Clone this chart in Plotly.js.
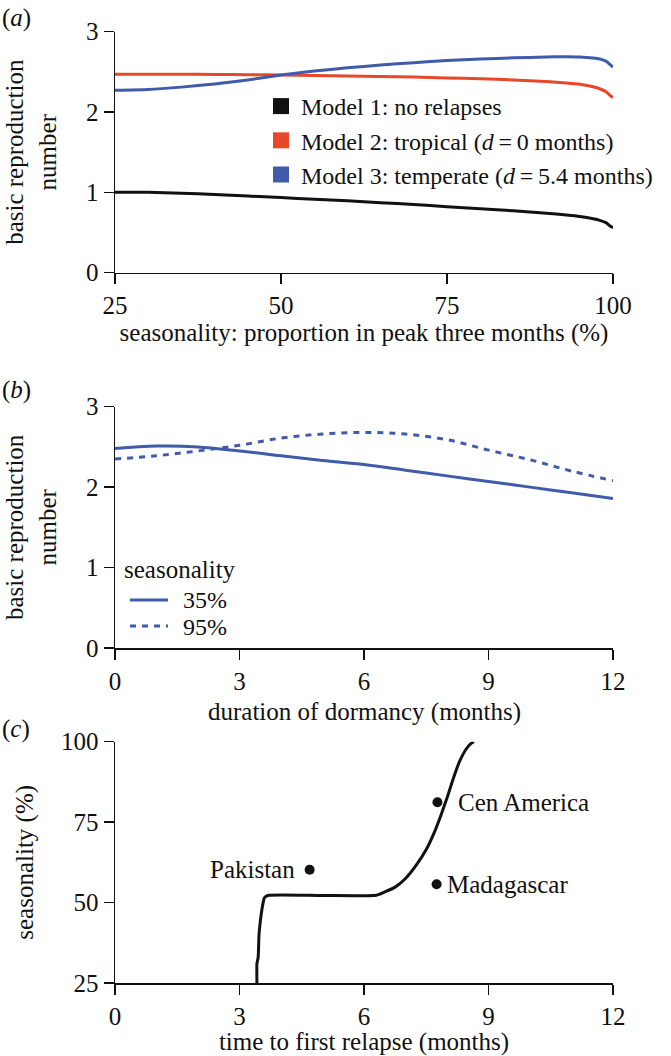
<!DOCTYPE html>
<html>
<head>
<meta charset="utf-8">
<script src="https://cdn.plot.ly/plotly-3.0.1.min.js"></script>
<style>html,body{margin:0;padding:0;background:#fff;}#chart{width:671px;height:1056px;}</style>
</head>
<body>
<div id="chart"></div>
<script>
// Panel (a): seasonality (%) vs basic reproduction number
const seasA = [25, 30, 35, 40, 45, 50, 55, 60, 65, 70, 75, 80, 85, 90, 93, 95, 97, 98, 99, 99.5, 100];
const model1 = [1.00, 1.00, 0.99, 0.975, 0.955, 0.935, 0.915, 0.895, 0.872, 0.848, 0.822, 0.797, 0.770, 0.740, 0.718, 0.700, 0.672, 0.652, 0.620, 0.585, 0.560];
const model2 = [2.47, 2.47, 2.47, 2.468, 2.465, 2.46, 2.455, 2.45, 2.443, 2.435, 2.425, 2.413, 2.40, 2.38, 2.362, 2.345, 2.315, 2.29, 2.25, 2.21, 2.18];
const model3 = [2.27, 2.28, 2.31, 2.35, 2.40, 2.46, 2.51, 2.55, 2.585, 2.615, 2.64, 2.66, 2.675, 2.685, 2.688, 2.685, 2.672, 2.66, 2.63, 2.595, 2.56];
const namesA = ["Model 1: no relapses", "Model 2: tropical (<i>d</i>\u2009=\u20090 months)", "Model 3: temperate (<i>d</i>\u2009=\u20095.4 months)"];

// Panel (b): duration of dormancy (months) vs basic reproduction number
const dormancy = [0, 1, 2, 3, 4, 5, 6, 7, 8, 9, 10, 11, 12];
const seas35 = [2.48, 2.51, 2.50, 2.45, 2.39, 2.33, 2.28, 2.21, 2.14, 2.07, 2.00, 1.93, 1.86];
const seas95 = [2.35, 2.39, 2.45, 2.52, 2.61, 2.66, 2.68, 2.66, 2.59, 2.46, 2.34, 2.20, 2.08];
const legendTitleB = "seasonality";
const namesB = ["35%", "95%"];

// Panel (c): time to first relapse (months) vs seasonality (%)
const relapseT = [3.42, 3.42, 3.45, 3.47, 3.50, 3.53, 3.57, 3.60, 3.68, 5.0, 6.3, 6.5, 6.75, 7.0, 7.25, 7.5, 7.7, 7.85, 8.0, 8.15, 8.3, 8.45, 8.58, 8.65];
const relapseS = [25, 31, 33, 40, 44, 47, 50, 51.5, 52.2, 52.2, 52.3, 53.3, 54.8, 57.5, 61.5, 66.5, 72, 77, 82.5, 88.5, 93.8, 97.5, 99.5, 100];
const places = ["Pakistan", "Cen America", "Madagascar"];
const placeT = [4.69, 7.77, 7.75];
const placeS = [60.2, 81.2, 55.7];

const RED = "#E8472A", BLUE = "#3F5BAA", BLACK = "#111111";
const FONT = "Liberation Serif";
const FS = 25;

const traces = [];
const colsA = [BLACK, RED, BLUE];
[model1, model2, model3].forEach((ys, i) => {
  traces.push({x: seasA, y: ys, type: "scatter", mode: "lines", line: {color: colsA[i], width: 3, shape: "spline", smoothing: 0.6},
    xaxis: "x", yaxis: "y", showlegend: false, hoverinfo: "skip", cliponaxis: false});
});
namesA.forEach((n, i) => {
  traces.push({x: [null], y: [null], type: "scatter", mode: "markers", name: n,
    marker: {symbol: "square", size: 18, color: colsA[i]}, xaxis: "x", yaxis: "y", legend: "legend"});
});
traces.push({x: dormancy, y: seas35, type: "scatter", mode: "lines", name: namesB[0], showlegend: false,
  line: {color: BLUE, width: 3, shape: "spline"}, xaxis: "x2", yaxis: "y2"});
traces.push({x: dormancy, y: seas95, type: "scatter", mode: "lines", name: namesB[1], showlegend: false,
  line: {color: BLUE, width: 3, shape: "spline", dash: "6px,6px"}, xaxis: "x2", yaxis: "y2"});
traces.push({x: relapseT, y: relapseS, type: "scatter", mode: "lines", line: {color: BLACK, width: 3, shape: "spline", smoothing: 0.5},
  xaxis: "x3", yaxis: "y3", showlegend: false, cliponaxis: false});
traces.push({x: placeT, y: placeS, type: "scatter", mode: "markers", marker: {color: BLACK, size: 10},
  xaxis: "x3", yaxis: "y3", showlegend: false, cliponaxis: false});

function ax(extra) {
  return Object.assign({
    showline: true, linecolor: BLACK, linewidth: 1.5, ticks: "outside", ticklen: 10, tickwidth: 1.5,
    tickcolor: BLACK, showgrid: false, zeroline: false, automargin: false, fixedrange: true,
    tickfont: {family: FONT, size: FS, color: BLACK}
  }, extra);
}
const P = (px) => 1 - px / 1056;
const xdom = [115/671, 613/671];
const tf = {family: FONT, size: FS, color: BLACK};
const lf = {family: FONT, size: 24, color: BLACK};
const layout = {
  width: 671, height: 1056,
  margin: {l: 0, r: 0, t: 0, b: 0, autoexpand: false},
  paper_bgcolor: "#fff", plot_bgcolor: "#fff",
  font: tf,
  xaxis: ax({domain: xdom, range: [25, 100], tickvals: [25, 50, 75, 100], anchor: "y",
    title: {text: "seasonality: proportion in peak three months (%)", font: tf, standoff: 2}}),
  yaxis: ax({domain: [P(272.7), P(31.7)], range: [0, 3], tickvals: [0, 1, 2, 3], anchor: "x",
    title: {text: "basic reproduction<br>number", font: tf, standoff: 22}}),
  xaxis2: ax({domain: xdom, range: [0, 12], tickvals: [0, 3, 6, 9, 12], anchor: "y2"}),
  yaxis2: ax({domain: [P(648), P(406.7)], range: [0, 3], tickvals: [0, 1, 2, 3], anchor: "x2",
    title: {text: "basic reproduction<br>number", font: tf, standoff: 22}}),
  xaxis3: ax({domain: xdom, range: [0, 12], tickvals: [0, 3, 6, 9, 12], anchor: "y3",
    title: {text: "time to first relapse (months)", font: tf, standoff: 3}}),
  yaxis3: ax({domain: [P(983), P(741.7)], range: [25, 100], tickvals: [25, 50, 75, 100], anchor: "x3",
    title: {text: "seasonality (%)", font: tf, standoff: 20}}),
  legend: {x: 261/671, xanchor: "left", y: P(84), yanchor: "top", bgcolor: "rgba(0,0,0,0)",
    font: lf, tracegroupgap: 0},
  shapes: [
    {type: "line", xref: "paper", yref: "paper", x0: 130/671, x1: 168/671, y0: P(600), y1: P(600), line: {color: BLUE, width: 3}},
    {type: "line", xref: "paper", yref: "paper", x0: 130/671, x1: 168/671, y0: P(626), y1: P(626), line: {color: BLUE, width: 3, dash: "6px,6px"}}
  ],
  annotations: [
    {text: "(<i>a</i>)", xref: "paper", yref: "paper", x: 0, y: P(2), xanchor: "left", yanchor: "top", showarrow: false, font: tf},
    {text: "(<i>b</i>)", xref: "paper", yref: "paper", x: 0, y: P(374), xanchor: "left", yanchor: "top", showarrow: false, font: tf},
    {text: "(<i>c</i>)", xref: "paper", yref: "paper", x: 0, y: P(713), xanchor: "left", yanchor: "top", showarrow: false, font: tf},
    {text: "duration of dormancy (months)", xref: "paper", yref: "paper", x: (xdom[0] + xdom[1]) / 2, y: P(697), xanchor: "center", yanchor: "top", showarrow: false, font: tf, borderpad: 0},
    {text: legendTitleB, xref: "paper", yref: "paper", x: 122/671, y: P(569), xanchor: "left", yanchor: "middle", showarrow: false, font: tf},
    {text: namesB[0], xref: "paper", yref: "paper", x: 182/671, y: P(600), xanchor: "left", yanchor: "middle", showarrow: false, font: lf, borderpad: 0},
    {text: namesB[1], xref: "paper", yref: "paper", x: 182/671, y: P(627), xanchor: "left", yanchor: "middle", showarrow: false, font: lf, borderpad: 0},
    {text: places[0], xref: "x3", yref: "y3", x: placeT[0] - 0.3, y: placeS[0], xanchor: "right", yanchor: "middle", showarrow: false, font: tf},
    {text: places[1], xref: "x3", yref: "y3", x: placeT[1] + 0.45, y: placeS[1], xanchor: "left", yanchor: "middle", showarrow: false, font: tf},
    {text: places[2], xref: "x3", yref: "y3", x: placeT[2] + 0.2, y: placeS[2], xanchor: "left", yanchor: "middle", showarrow: false, font: tf}
  ]
};
Plotly.newPlot("chart", traces, layout, {displayModeBar: false, staticPlot: true});
</script>
</body>
</html>
